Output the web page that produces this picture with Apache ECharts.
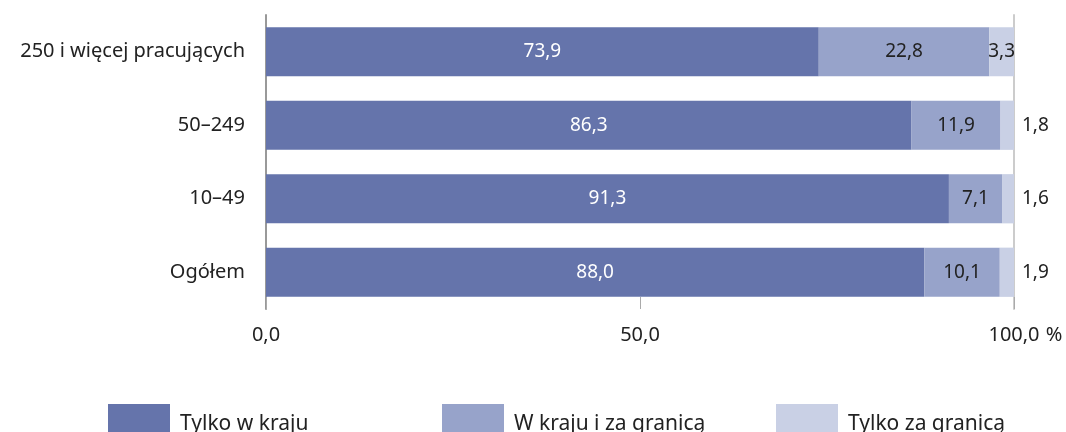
<!DOCTYPE html>
<html>
<head>
<meta charset="utf-8">
<script src="https://cdn.jsdelivr.net/npm/echarts@6/dist/echarts.min.js"></script>
<style>
html, body { margin: 0; padding: 0; background: #fff; }
#chart { width: 1066px; height: 432px; }
</style>
</head>
<body>
<div id="chart"></div>
<script>
const categories = ['250 i więcej pracujących', '50–249', '10–49', 'Ogółem']
const seriesNames = ['Tylko w kraju', 'W kraju i za granicą', 'Tylko za granicą']
const onlyDomestic = [73.9, 86.3, 91.3, 88.0]
const domesticAndAbroad = [22.8, 11.9, 7.1, 10.1]
const onlyAbroad = [3.3, 1.8, 1.6, 1.9]
const xTicks = [0, 50, 100]

const colors = ['#6574ab', '#97a3ca', '#c9d0e5']
const font = '"Noto Sans", sans-serif'
const fmt = v => v.toFixed(1).replace('.', ',')

const chart = echarts.init(document.getElementById('chart'))

function barSeries (name, values, color, labelColor) {
    return {
        name: name,
        type: 'bar',
        stack: 'total',
        barWidth: '67%',
        itemStyle: { color: color },
        label: {
            show: true,
            position: 'inside',
            color: labelColor,
            fontFamily: font,
            fontSize: 19,
            formatter: p => fmt(p.value)
        },
        data: values
    }
}

// small slices get their label outside the bar
const abroad = barSeries(seriesNames[2], onlyAbroad.map(v => ({
    value: v,
    label: v < 3 ? { position: 'right', distance: 8 } : {}
})), colors[2], '#222')

const option = {
    animation: false,
    grid: { left: 266, right: 52, top: 15, bottom: 123 },
    legend: seriesNames.map((n, i) => ({
        data: [n],
        left: [108, 442, 776][i],
        top: 404,
        padding: 0,
        itemWidth: 62,
        itemHeight: 30,
        icon: 'rect',
        selectedMode: false,
        formatter: name => '{t|' + name + '}',
        textStyle: {
            rich: {
                t: {
                    fontFamily: font,
                    fontSize: 21,
                    color: '#222',
                    padding: [10, 0, 0, 5]
                }
            }
        }
    })),
    xAxis: {
        type: 'value',
        min: 0,
        max: 100,
        interval: 50,
        axisLine: { show: false },
        splitLine: { show: false },
        axisTick: { show: true, inside: true, length: 12, lineStyle: { color: '#aaa' } },
        axisLabel: {
            margin: 16,
            fontFamily: font,
            fontSize: 20,
            color: '#222',
            formatter: v => {
                if (!xTicks.includes(v)) return ''
                return v === 100 ? '{pad|}' + fmt(v) + '{pct| %}' : fmt(v)
            },
            rich: {
                pad: { width: 24 },
                pct: { width: 24, fontFamily: font, fontSize: 20, color: '#222' }
            }
        }
    },
    yAxis: [
        {
            type: 'category',
            inverse: true,
            data: categories,
            axisTick: { show: false },
            axisLine: { show: true, lineStyle: { color: '#999', width: 2 } },
            axisLabel: { margin: 21, fontFamily: font, fontSize: 20, color: '#222' }
        },
        {
            type: 'category',
            inverse: true,
            position: 'right',
            data: categories,
            axisTick: { show: false },
            axisLabel: { show: false },
            axisLine: { show: true, lineStyle: { color: '#ccc', width: 2 } }
        }
    ],
    series: [
        barSeries(seriesNames[0], onlyDomestic, colors[0], '#fff'),
        barSeries(seriesNames[1], domesticAndAbroad, colors[1], '#222'),
        abroad
    ]
}

chart.setOption(option)
</script>
</body>
</html>
